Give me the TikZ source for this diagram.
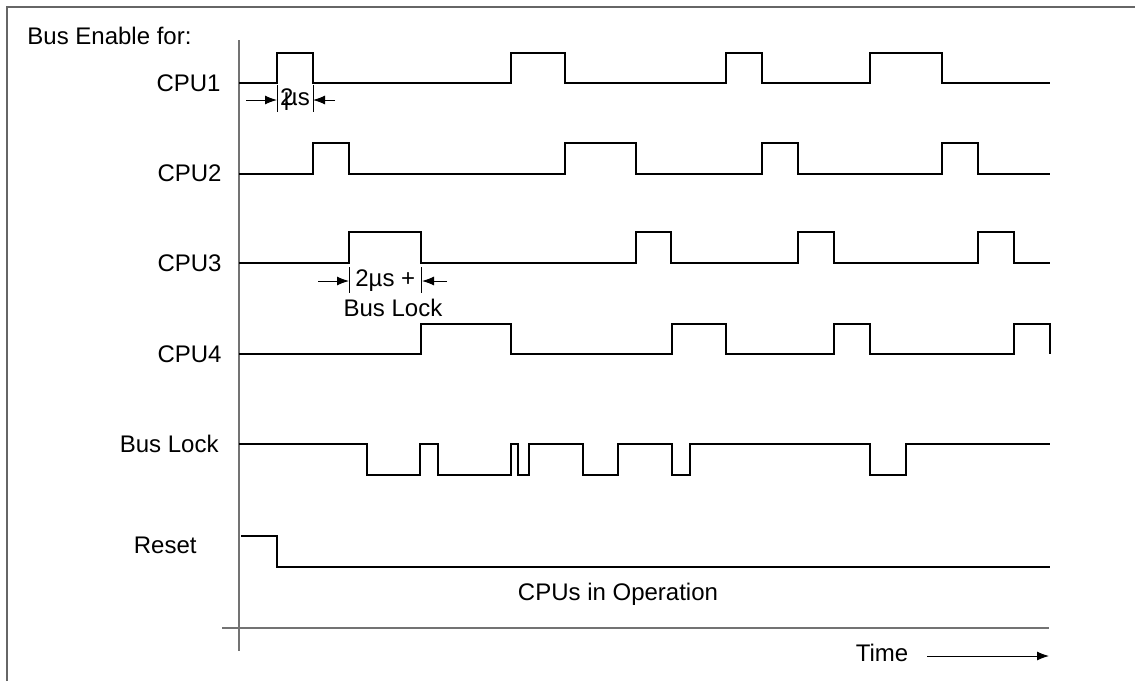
\documentclass[tikz,border=0pt]{standalone}
\usepackage{fontspec}
\setmainfont{Liberation Sans}
\usetikzlibrary{arrows.meta,positioning}

\begin{document}
\begin{tikzpicture}[x=0.5pt,y=-0.5pt,>={Latex[length=6pt,width=4.5pt]},
 lbl/.style={font=\fontsize{12}{14}\selectfont,inner sep=0pt},
 sig/.style={line width=0.65pt},
 axis/.style={draw=black!55,line width=0.75pt},
 frame/.style={draw=black!60,line width=1.1pt},
 tick/.style={line width=0.5pt},dim/.style={->,line width=0.5pt}]
\useasboundingbox (0,0) rectangle (1135,681);
\draw[frame] (7,681) -- (7,7) -- (1135,7);
% axes
\coordinate (ytop) at (239,40); \coordinate (ybot) at (239,651);
\coordinate (xl) at (222,628); \coordinate (xr) at (1049,628);
\draw[axis] (ytop) -- (ybot); \draw[axis] (xl) -- (xr);
% labels
\node[lbl,anchor=west] (title) at (27,36) {Bus Enable for:};
\node[lbl,anchor=east] (cpu1) at (221,83) {CPU1};
\node[lbl,anchor=east] (cpu2) at (222,173) {CPU2};
\node[lbl,anchor=east] (cpu3) at (222,263) {CPU3};
\node[lbl,anchor=east] (cpu4) at (222,354) {CPU4};
\node[lbl,anchor=east] (lock) at (219,444) {Bus Lock};
\node[lbl,anchor=east] (reset) at (197,545) {Reset};
\node[lbl] (oper) at (618,594) {CPUs in Operation};
\node[lbl] (time) at (882,653) {Time};
% waveforms
\draw[sig] (239,83) -| (277,53) -| (313,83) -| (511,53) -| (565,83) -| (726,53) -| (762,83) -| (870,53) -| (942,83) -- (1050,83);
\draw[sig] (239,174) -| (313,143) -| (349,174) -| (565,143) -| (636,174) -| (762,143) -| (798,174) -| (942,143) -| (978,174) -- (1050,174);
\draw[sig] (239,263) -| (349,232) -| (421,263) -| (636,232) -| (671,263) -| (798,232) -| (834,263) -| (978,232) -| (1014,263) -- (1050,263);
\draw[sig] (239,354) -| (421,324) -| (511,354) -| (672,324) -| (726,354) -| (834,324) -| (870,354) -| (1014,324) -| (1050,354);
\draw[sig] (239,444) -| (367,475) -| (420,444) -| (438,475) -| (511,444) -| (518,475) -| (529,444) -| (583,475) -| (618,444) -| (672,475) -| (690,444) -| (870,475) -| (906,444) -- (1050,444);
\draw[sig] (241,536) -| (277,567) -- (1050,567);
% 2us marks
\coordinate (a1) at (246,100); \coordinate (b1) at (277,100);
\coordinate (c1) at (335,100); \coordinate (e1) at (313,100);
\draw[tick] (277,85) -- (277,112); \draw[tick] (313,85) -- (313,112);
\draw[dim] (a1) -- (b1); \draw[dim] (c1) -- (e1);
\node[lbl] (us1) at (295,100) {2\kern-.4em µs};
\coordinate (a3) at (318,281); \coordinate (b3) at (349,281);
\coordinate (c3) at (447,281); \coordinate (e3) at (422,281);
\draw[tick] (349,267) -- (349,293); \draw[tick] (421,267) -- (421,293);
\draw[dim] (a3) -- (b3); \draw[dim] (c3) -- (e3);
\node[lbl,anchor=west] (us3) at (355,281) {2µs +};
\node[lbl] (lk3) at (393,308) {Bus Lock};
% time arrow
\coordinate (ta) at (927,656); \coordinate (tb) at (1049,656);
\draw[dim] (ta) -- (tb);
\end{tikzpicture}
\end{document}
